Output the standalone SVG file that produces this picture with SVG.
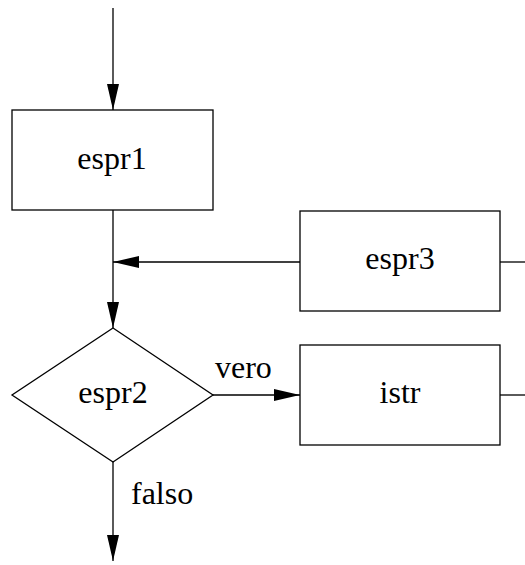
<svg xmlns="http://www.w3.org/2000/svg" width="525" height="565" viewBox="0 0 525 565">
<style>
.shape{fill:#fff;stroke:#000;stroke-width:1.3}
.line{fill:none;stroke:#000;stroke-width:1.3}
.t{font-family:"Liberation Serif","Times New Roman",serif;font-size:32px;fill:#000}
.c{text-anchor:middle}
</style>
<defs>
<marker id="ah" markerUnits="userSpaceOnUse" markerWidth="26" markerHeight="12" refX="26" refY="6" orient="auto">
<path d="M0,0 L26,6 L0,12 Z" fill="#000"/>
</marker>
</defs>
<g id="connectors">
<line class="line" x1="113" y1="8" x2="113" y2="110" marker-end="url(#ah)"/>
<line class="line" x1="113" y1="210" x2="113" y2="328" marker-end="url(#ah)"/>
<line class="line" x1="300" y1="262" x2="113" y2="262" marker-end="url(#ah)"/>
<line class="line" x1="500" y1="262" x2="525" y2="262"/>
<line class="line" x1="213" y1="395" x2="300" y2="395" marker-end="url(#ah)"/>
<line class="line" x1="500" y1="395" x2="525" y2="395"/>
<line class="line" x1="113" y1="462" x2="113" y2="561" marker-end="url(#ah)"/>
<text class="t" x="215" y="378">vero</text>
<text class="t" x="131" y="504">falso</text>
</g>
<g id="espr1">
<rect class="shape" x="12" y="110" width="201" height="100"/>
<text class="t c" x="112" y="169">espr1</text>
</g>
<g id="espr3">
<rect class="shape" x="300" y="211" width="200" height="100"/>
<text class="t c" x="400" y="269">espr3</text>
</g>
<g id="espr2">
<polygon class="shape" points="113,328 213,395 113,462 12,395"/>
<text class="t c" x="113" y="403">espr2</text>
</g>
<g id="istr">
<rect class="shape" x="300" y="345" width="200" height="100"/>
<text class="t c" x="400" y="403">istr</text>
</g>
</svg>
